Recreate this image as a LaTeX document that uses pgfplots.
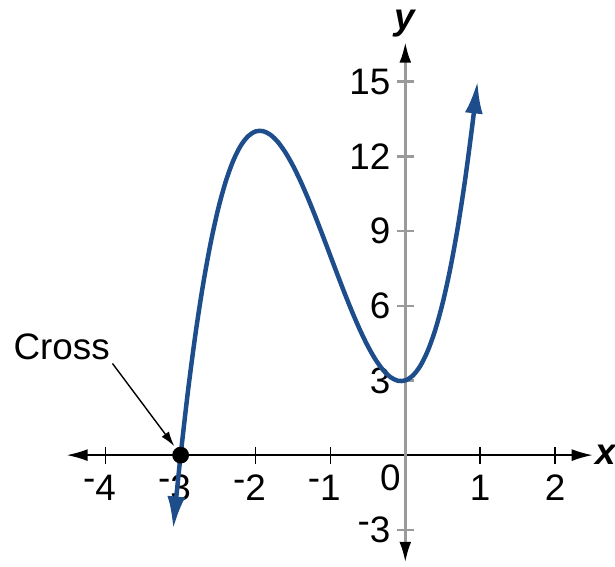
\documentclass[border=0pt]{standalone}
\usepackage{fontspec}
\setmainfont{Liberation Sans}
\usepackage{graphicx}
\usepackage{pgfplots}
\pgfplotsset{compat=1.18}
\usetikzlibrary{arrows.meta}
\definecolor{curve}{HTML}{1E4D8C}
\definecolor{axgray}{HTML}{9A9A9A}
% raised short minus, as in the reference
\newcommand{\hm}{\llap{\raisebox{0.25em}{-}}}
\newcommand{\ym}{\raisebox{0.25em}{-}}
\newcommand{\lbl}{\fontsize{18.5bp}{21bp}\selectfont}

\begin{document}
\begin{tikzpicture}
\begin{axis}[
    x=37.6bp, y=12.5bp,
    xmin=-4.52, xmax=2.5,
    ymin=-4.32, ymax=16.6,
    axis lines=middle,
    clip=false,
    x axis line style={black, line width=0.75bp,
        {Latex[length=10.5bp,width=6bp]}-{Latex[length=10.5bp,width=6bp]}},
    y axis line style={axgray, line width=1.5bp,
        {Latex[length=10.5bp,width=6bp,black]}-{Latex[length=10.5bp,width=6bp,black]}},
    xtick={-4,-3,-2,-1,1,2},
    xticklabels={\hm4,\hm3,\hm2,\hm1,1,2},
    ytick={-3,3,6,9,12,15},
    yticklabels={\ym3,3,6,9,12,15},
    tick align=center,
    major tick length=8.5bp,
    x tick style={black, line width=0.75bp},
    y tick style={axgray, line width=1.2bp},
    tick label style={font=\lbl, inner sep=0pt},
    xticklabel style={anchor=center, yshift=-12bp},
    yticklabel style={anchor=east, xshift=-3bp},
    xlabel={\textbf{\textit{x}}},
    ylabel={\textbf{\textit{y}}},
    every axis x label/.style={at={(axis cs:2.5,0)}, anchor=west, inner sep=0pt, xshift=1.5bp, font=\lbl},
    every axis y label/.style={at={(axis cs:0,16.6)}, anchor=base, yshift=6bp, font=\lbl},
]
\addplot[curve, line width=2.25bp, smooth,
    {Latex[length=16.5bp,width=9bp]}-{Latex[length=16.5bp,width=9bp]}]
  coordinates {
  (-3.1,-2.983) (-3.05,-1.445) (-3.0,0) (-2.9,2.623) (-2.8,4.904)
  (-2.7,6.861) (-2.6,8.512) (-2.5,9.875) (-2.4,10.968) (-2.3,11.809)
  (-2.2,12.416) (-2.1,12.807) (-2.0,13.0) (-1.9,13.013) (-1.8,12.864)
  (-1.7,12.571) (-1.6,12.152) (-1.5,11.625) (-1.4,11.008) (-1.3,10.319)
  (-1.2,9.576) (-1.1,8.797) (-1.0,8.0) (-0.9,7.203) (-0.8,6.424)
  (-0.7,5.681) (-0.6,4.992) (-0.5,4.375) (-0.4,3.848) (-0.3,3.429)
  (-0.2,3.136) (-0.1,2.987) (0,3.0) (0.1,3.193) (0.2,3.584)
  (0.3,4.191) (0.4,5.032) (0.5,6.125) (0.6,7.488) (0.7,9.139)
  (0.8,11.096) (0.9,13.377) (0.965,15.042)
  };
\addplot[only marks, mark=*, mark size=4bp, black] coordinates {(-3,0)};

\node[font=\lbl, inner sep=0pt] at (axis cs:0,0) [xshift=-7.5bp, yshift=-11.5bp] {0};
\draw[-{Latex[length=7.5bp,width=4.5bp]}, line width=0.7bp]
  (axis cs:-3.91,3.68) -- (axis cs:-3.085,0.36);
\node[font=\lbl, inner sep=0pt] at (axis cs:-4.588,4.36) {Cross};

\coordinate (bl) at (axis cs:-5.412,-4.48);
\coordinate (tr) at (axis cs:2.80,18.28);
\end{axis}
\pgfresetboundingbox
\path[use as bounding box] (bl) rectangle (tr);
\end{tikzpicture}
\end{document}
